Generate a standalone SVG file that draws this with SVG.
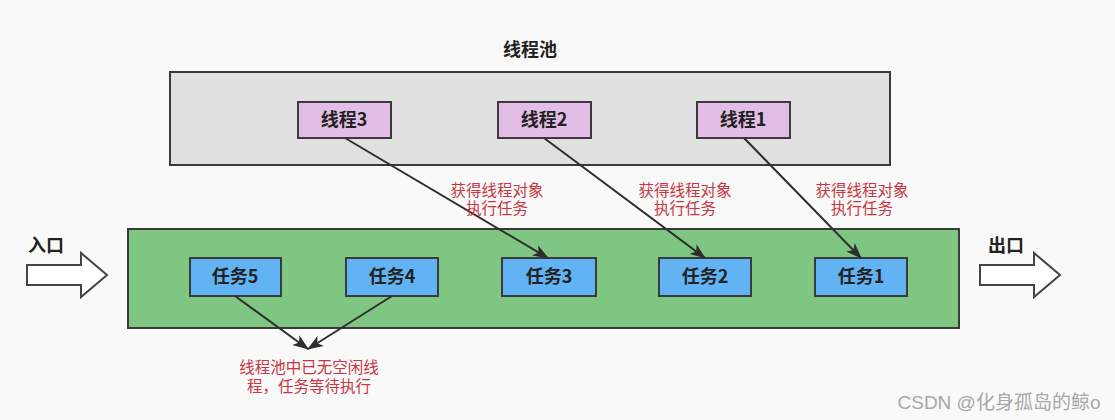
<svg xmlns="http://www.w3.org/2000/svg" width="1115" height="420" viewBox="0 0 1115 420">
<style>
.box{stroke:#3a3a3a;stroke-width:2}
.thread{fill:#e2bde6}
.task{fill:#62b3f3}
.nt{font-family:"Noto Sans CJK SC","Liberation Sans",sans-serif;font-size:18px;font-weight:bold;fill:#222;text-anchor:middle}
.lbl{font-family:"Noto Sans CJK SC","Liberation Sans",sans-serif;font-size:15.5px;fill:#c8373f;text-anchor:middle}
.conn{stroke:#2e2e2e;stroke-width:2;fill:none}
.big{fill:#ffffff;stroke:#444;stroke-width:2}
</style>
<defs>
<marker id="ah" markerWidth="16" markerHeight="12" refX="15" refY="6" orient="auto" markerUnits="userSpaceOnUse">
<path d="M0,0 L16,6 L0,12 L4,6 Z" fill="#2e2e2e"/>
</marker>
</defs>
<rect width="1115" height="420" fill="#f9f9f9"/>
<g id="pool">
<text x="530" y="56" class="nt">线程池</text>
<rect x="170" y="72" width="720" height="93" fill="#e0e0e0" class="box"/>
</g>
<g id="queue">
<rect x="128" y="229" width="831" height="99" fill="#80c683" class="box"/>
</g>
<g id="thread3"><rect x="298" y="102" width="93" height="36" class="box thread"/><text x="344" y="126" class="nt">线程3</text></g>
<g id="thread2"><rect x="498" y="102" width="93" height="36" class="box thread"/><text x="544" y="126" class="nt">线程2</text></g>
<g id="thread1"><rect x="697" y="102" width="93" height="36" class="box thread"/><text x="743" y="126" class="nt">线程1</text></g>
<g id="task5"><rect x="190" y="258" width="91" height="38" class="box task"/><text x="235" y="283" class="nt">任务5</text></g>
<g id="task4"><rect x="346" y="258" width="92" height="38" class="box task"/><text x="392" y="283" class="nt">任务4</text></g>
<g id="task3"><rect x="502" y="258" width="94" height="38" class="box task"/><text x="549" y="283" class="nt">任务3</text></g>
<g id="task2"><rect x="659" y="258" width="92" height="38" class="box task"/><text x="705" y="283" class="nt">任务2</text></g>
<g id="task1"><rect x="815" y="258" width="92" height="38" class="box task"/><text x="861" y="283" class="nt">任务1</text></g>
<g id="entry">
<path d="M27,265 L81,265 L81,253 L107,275 L81,297 L81,285 L27,285 Z" class="big"/>
<text x="46" y="252" class="nt">入口</text>
</g>
<g id="exit">
<path d="M980,265 L1034,265 L1034,253 L1060,275 L1034,297 L1034,285 L980,285 Z" class="big"/>
<text x="1006" y="252" class="nt">出口</text>
</g>
<g id="connectors">
<line x1="345" y1="138" x2="548" y2="258" class="conn" marker-end="url(#ah)"/>
<line x1="544" y1="138" x2="705" y2="258" class="conn" marker-end="url(#ah)"/>
<line x1="744" y1="138" x2="861" y2="258" class="conn" marker-end="url(#ah)"/>
<line x1="235" y1="296" x2="308" y2="349" class="conn" marker-end="url(#ah)"/>
<line x1="392" y1="296" x2="308" y2="349" class="conn" marker-end="url(#ah)"/>
</g>
<g id="labels">
<text class="lbl"><tspan x="497" y="196">获得线程对象</tspan><tspan x="497" y="214">执行任务</tspan></text>
<text class="lbl"><tspan x="685" y="196">获得线程对象</tspan><tspan x="685" y="214">执行任务</tspan></text>
<text class="lbl"><tspan x="862" y="196">获得线程对象</tspan><tspan x="862" y="214">执行任务</tspan></text>
<text class="lbl" font-size="17.5"><tspan x="309" y="373">线程池中已无空闲线</tspan><tspan x="309" y="392">程，任务等待执行</tspan></text>
</g>
<text x="999" y="409" font-family="Liberation Sans,Noto Sans CJK SC,sans-serif" font-size="19" fill="#a8a8a8" text-anchor="middle">CSDN @化身孤岛的鲸o</text>
</svg>
